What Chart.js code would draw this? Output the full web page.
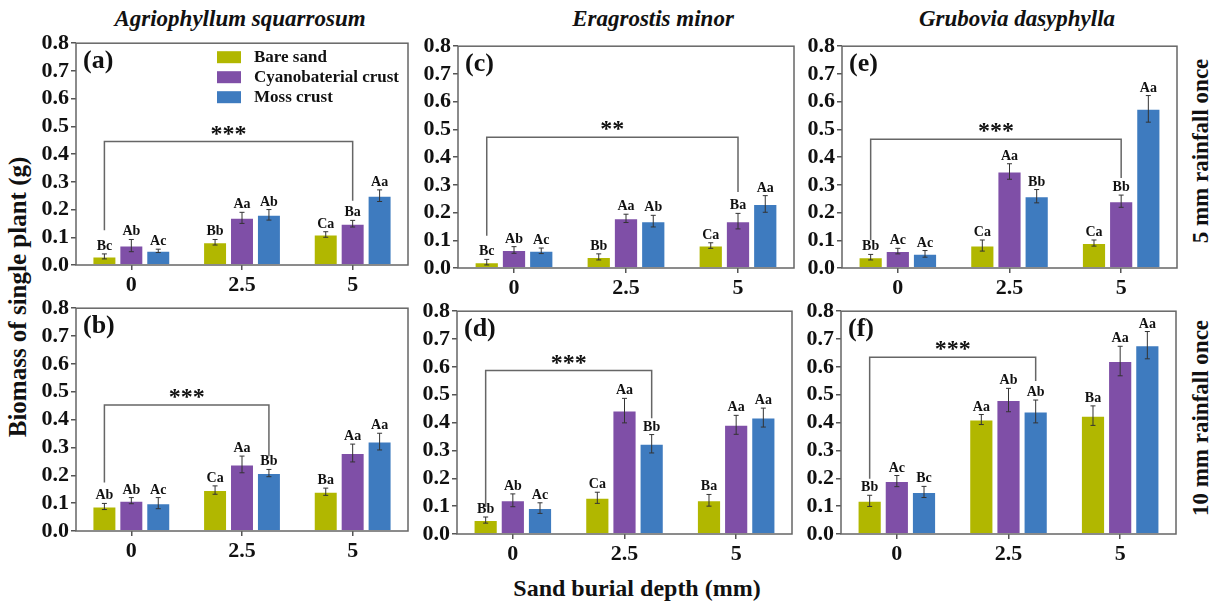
<!DOCTYPE html>
<html>
<head>
<meta charset="utf-8">
<style>
  body { margin: 0; background: #fff; }
  #wrap { position: relative; width: 1214px; height: 601px; overflow: hidden;
          font-family: "Liberation Serif", "Times New Roman", serif; font-weight: bold; color: #111; }
  .panel { position: absolute; }
  .txt { position: absolute; white-space: nowrap; transform: translate(-50%, -50%); }
  .rot { position: absolute; white-space: nowrap; transform: translate(-50%, -50%) rotate(-90deg); }
  .title { font-style: italic; font-size: 23px; }
</style>
</head>
<body>
<div id="wrap">
  <div class="txt title" style="left:240px; top:19px;">Agriophyllum squarrosum</div>
  <div class="txt title" style="left:653px; top:19px;">Eragrostis minor</div>
  <div class="txt title" style="left:1017px; top:19px;">Grubovia dasyphylla</div>
  <div class="rot" style="left:18px; top:297px; font-size:25px;">Biomass of single plant (g)</div>
  <div class="rot" style="left:1201px; top:151px; font-size:23px;">5 mm rainfall once</div>
  <div class="rot" style="left:1201px; top:418px; font-size:23px;">10 mm rainfall once</div>
  <div class="txt" style="left:637px; top:588px; font-size:24px;">Sand burial depth (mm)</div>

  <canvas class="panel" id="pa"></canvas>
  <canvas class="panel" id="pb"></canvas>
  <canvas class="panel" id="pc"></canvas>
  <canvas class="panel" id="pd"></canvas>
  <canvas class="panel" id="pe"></canvas>
  <canvas class="panel" id="pf"></canvas>
</div>

<script src="https://cdn.jsdelivr.net/npm/chart.js@4.4.1/dist/chart.umd.min.js"></script>
<script>
// categories and series
var depthLabels = ['0', '2.5', '5'];
var seriesNames = ['Bare sand', 'Cyanobaterial crust', 'Moss crust'];
var seriesColors = ['#b1b700', '#7f4fa7', '#3e7bbf'];

// (a) Agriophyllum squarrosum, 5 mm
var aBare = [0.031, 0.082, 0.11],  aBareErr = [0.009, 0.01, 0.01];
var aCyano = [0.07, 0.17, 0.149],  aCyanoErr = [0.022, 0.02, 0.012];
var aMoss = [0.051, 0.181, 0.25],  aMossErr = [0.006, 0.019, 0.021];
var aLetters = [['Bc', 'Bb', 'Ca'], ['Ab', 'Aa', 'Ba'], ['Ac', 'Ab', 'Aa']];
var aBracket = [0, 0, 1, 2, 0.445, 0.125, 0.232]; // from series,cat -> to series,cat ; top, left end, right end
var aStars = '***';

// (b) Agriophyllum squarrosum, 10 mm
var bBare = [0.088, 0.147, 0.141], bBareErr = [0.011, 0.015, 0.013];
var bCyano = [0.109, 0.239, 0.28], bCyanoErr = [0.011, 0.03, 0.032];
var bMoss = [0.10, 0.208, 0.321],  bMossErr = [0.02, 0.013, 0.03];
var bLetters = [['Ab', 'Ca', 'Ba'], ['Ab', 'Aa', 'Aa'], ['Ac', 'Bb', 'Aa']];
var bBracket = [0, 0, 2, 1, 0.452, 0.174, 0.268];
var bStars = '***';

// (c) Eragrostis minor, 5 mm
var cBare = [0.021, 0.04, 0.081],  cBareErr = [0.01, 0.011, 0.01];
var cCyano = [0.065, 0.179, 0.169], cCyanoErr = [0.012, 0.015, 0.028];
var cMoss = [0.062, 0.169, 0.231], cMossErr = [0.01, 0.021, 0.03];
var cLetters = [['Bc', 'Bb', 'Ca'], ['Ab', 'Aa', 'Ba'], ['Ac', 'Ab', 'Aa']];
var cBracket = [0, 0, 1, 2, 0.472, 0.116, 0.274];
var cStars = '**';

// (d) Eragrostis minor, 10 mm
var dBare = [0.05, 0.13, 0.121],   dBareErr = [0.011, 0.02, 0.021];
var dCyano = [0.121, 0.443, 0.392], dCyanoErr = [0.023, 0.044, 0.034];
var dMoss = [0.093, 0.324, 0.418], dMossErr = [0.019, 0.033, 0.034];
var dLetters = [['Bb', 'Ca', 'Ba'], ['Ab', 'Aa', 'Aa'], ['Ac', 'Bb', 'Aa']];
var dBracket = [0, 0, 2, 1, 0.587, 0.097, 0.416];
var dStars = '***';

// (e) Grubovia dasyphylla, 5 mm
var eBare = [0.039, 0.081, 0.09],  eBareErr = [0.01, 0.02, 0.011];
var eCyano = [0.061, 0.348, 0.241], eCyanoErr = [0.01, 0.028, 0.022];
var eMoss = [0.051, 0.259, 0.574], eMossErr = [0.012, 0.024, 0.048];
var eLetters = [['Bb', 'Ca', 'Ca'], ['Ac', 'Aa', 'Bb'], ['Ac', 'Bb', 'Aa']];
var eBracket = [0, 0, 1, 2, 0.464, 0.101, 0.325];
var eStars = '***';

// (f) Grubovia dasyphylla, 10 mm
var fBare = [0.119, 0.411, 0.425], fBareErr = [0.02, 0.018, 0.035];
var fCyano = [0.19, 0.481, 0.621], fCyanoErr = [0.02, 0.042, 0.053];
var fMoss = [0.151, 0.44, 0.678],  fMossErr = [0.02, 0.041, 0.049];
var fLetters = [['Bb', 'Aa', 'Ba'], ['Ac', 'Ab', 'Aa'], ['Bc', 'Ab', 'Aa']];
var fBracket = [0, 0, 2, 1, 0.635, 0.198, 0.549];
var fStars = '***';

var serif = '"Liberation Serif", "Times New Roman", serif';
var Y_W = 50, X_H = 36, PAD_T = 12, PAD_R = 6;

var extras = {
  id: 'extras',
  afterDatasetsDraw: function(chart) {
    var o = chart.options.plugins.extras;
    var ctx = chart.ctx, y = chart.scales.y, a = chart.chartArea;
    ctx.save();
    // error bars and letters
    for (var s = 0; s < 3; s++) {
      var meta = chart.getDatasetMeta(s);
      var vals = chart.data.datasets[s].data;
      meta.data.forEach(function(bar, i) {
        var v = vals[i], e = o.err[s][i];
        var yt = y.getPixelForValue(v + e), yb = y.getPixelForValue(v - e);
        ctx.strokeStyle = '#333';
        ctx.lineWidth = 1;
        ctx.beginPath();
        ctx.moveTo(bar.x, yt); ctx.lineTo(bar.x, yb);
        ctx.moveTo(bar.x - 2.5, yt); ctx.lineTo(bar.x + 2.5, yt);
        ctx.moveTo(bar.x - 2.5, yb); ctx.lineTo(bar.x + 2.5, yb);
        ctx.stroke();
        ctx.fillStyle = '#111';
        ctx.font = 'bold 14px ' + serif;
        ctx.textAlign = 'center';
        ctx.textBaseline = 'alphabetic';
        ctx.fillText(o.letters[s][i], bar.x, yt - 4);
      });
    }
    // significance bracket
    var br = o.bracket;
    var x1 = chart.getDatasetMeta(br[0]).data[br[1]].x;
    var x2 = chart.getDatasetMeta(br[2]).data[br[3]].x;
    var yTop = y.getPixelForValue(br[4]);
    ctx.strokeStyle = '#666';
    ctx.lineWidth = 1.5;
    ctx.beginPath();
    ctx.moveTo(x1, y.getPixelForValue(br[5]));
    ctx.lineTo(x1, yTop);
    ctx.lineTo(x2, yTop);
    ctx.lineTo(x2, y.getPixelForValue(br[6]));
    ctx.stroke();
    ctx.fillStyle = '#111';
    ctx.font = 'bold 24px ' + serif;
    ctx.textAlign = 'center';
    ctx.fillText(o.stars, (x1 + x2) / 2, yTop - 1);
    // frame
    ctx.strokeStyle = '#666';
    ctx.lineWidth = 1.5;
    ctx.strokeRect(a.left, a.top, a.right - a.left, a.bottom - a.top);
    // panel tag
    ctx.font = 'bold 26px ' + serif;
    ctx.textAlign = 'left';
    ctx.textBaseline = 'middle';
    ctx.fillText(o.tag, a.left + 7, a.top + 18);
    // legend
    if (o.legend) {
      ctx.font = 'bold 17px ' + serif;
      for (var k = 0; k < 3; k++) {
        var cy = a.top + 14 + k * 20;
        ctx.fillStyle = seriesColors[k];
        ctx.fillRect(a.left + 141, cy - 6, 24, 12);
        ctx.fillStyle = '#111';
        ctx.fillText(seriesNames[k], a.left + 178, cy);
      }
    }
    ctx.restore();
  }
};

function makePanel(id, box, bare, cyano, moss, err, letters, bracket, stars, tag, legend) {
  var cv = document.getElementById(id);
  var w = box[2] - box[0] + Y_W + PAD_R, h = box[3] - box[1] + PAD_T + X_H;
  cv.width = w; cv.height = h;
  cv.style.left = (box[0] - Y_W) + 'px';
  cv.style.top = (box[1] - PAD_T) + 'px';
  cv.style.width = w + 'px'; cv.style.height = h + 'px';
  var vals = [bare, cyano, moss];
  var tickFont = { family: serif, size: 22, weight: 'bold' };
  return new Chart(cv.getContext('2d'), {
    type: 'bar',
    data: {
      labels: depthLabels,
      datasets: vals.map(function(d, k) {
        return {
          label: seriesNames[k], data: d,
          backgroundColor: seriesColors[k],
          borderColor: 'rgba(255,255,255,0.35)', borderWidth: 1,
          categoryPercentage: 0.73, barPercentage: 0.89
        };
      })
    },
    options: {
      responsive: false, animation: false, devicePixelRatio: 1,
      layout: { padding: { top: PAD_T, right: PAD_R, left: 0, bottom: 0 } },
      plugins: {
        legend: { display: false }, tooltip: { enabled: false },
        extras: { err: err, letters: letters, bracket: bracket, stars: stars, tag: tag, legend: legend }
      },
      scales: {
        x: {
          border: { display: false },
          grid: { offset: false, drawOnChartArea: false, drawTicks: true, tickLength: 5, color: '#555', lineWidth: 1.5 },
          ticks: { font: tickFont, color: '#111', padding: 2, maxRotation: 0, autoSkip: false },
          afterFit: function(s) { s.height = X_H; }
        },
        y: {
          min: 0, max: 0.8,
          border: { display: false },
          grid: { drawOnChartArea: false, drawTicks: true, tickLength: 5, color: '#555', lineWidth: 1.5 },
          ticks: { stepSize: 0.1, font: tickFont, color: '#111', padding: 2, autoSkip: false,
                   callback: function(v) { return Number(v).toFixed(1); } },
          afterFit: function(s) { s.width = Y_W; }
        }
      }
    },
    plugins: [extras]
  });
}

makePanel('pa', [76, 40, 408, 265], aBare, aCyano, aMoss, [aBareErr, aCyanoErr, aMossErr], aLetters, aBracket, aStars, '(a)', true);
makePanel('pb', [76, 305, 408, 531], bBare, bCyano, bMoss, [bBareErr, bCyanoErr, bMossErr], bLetters, bBracket, bStars, '(b)', false);
makePanel('pc', [458, 43, 794, 268], cBare, cCyano, cMoss, [cBareErr, cCyanoErr, cMossErr], cLetters, cBracket, cStars, '(c)', false);
makePanel('pd', [457, 308, 792, 534], dBare, dCyano, dMoss, [dBareErr, dCyanoErr, dMossErr], dLetters, dBracket, dStars, '(d)', false);
makePanel('pe', [842, 43, 1177, 268], eBare, eCyano, eMoss, [eBareErr, eCyanoErr, eMossErr], eLetters, eBracket, eStars, '(e)', false);
makePanel('pf', [841, 308, 1176, 534], fBare, fCyano, fMoss, [fBareErr, fCyanoErr, fMossErr], fLetters, fBracket, fStars, '(f)', false);
</script>
</body>
</html>
